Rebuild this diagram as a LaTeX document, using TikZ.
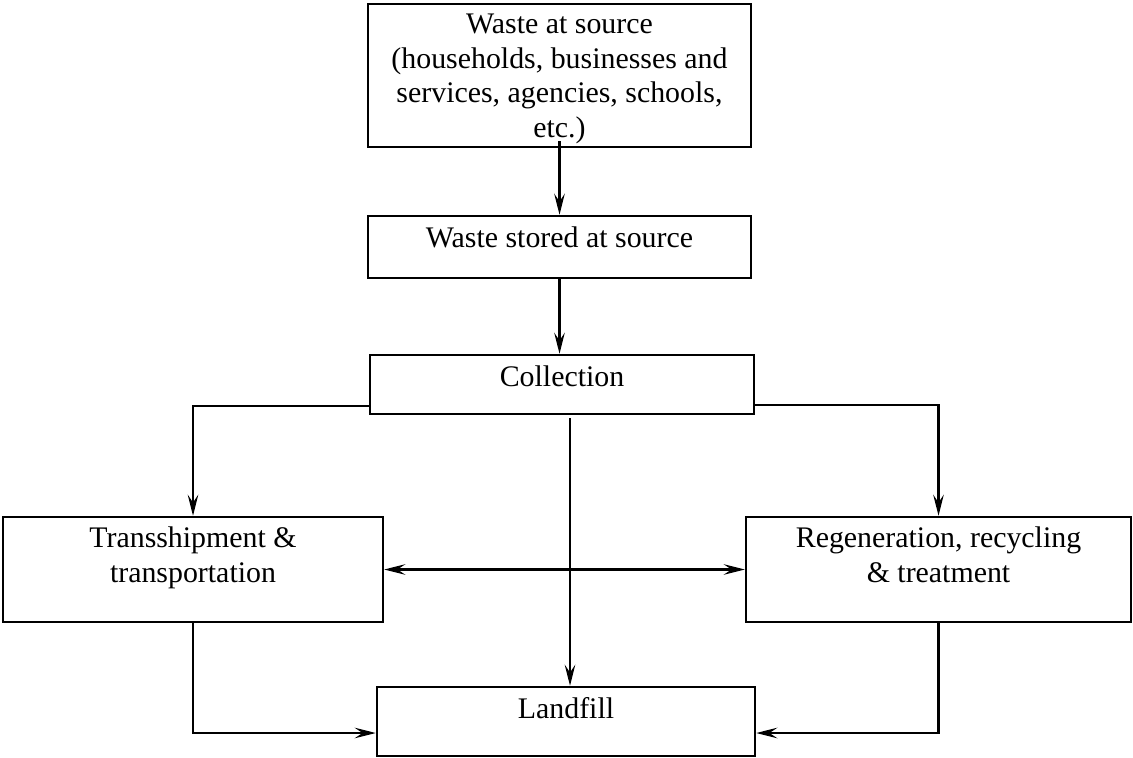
\documentclass[tikz,border=0pt]{standalone}
\usepackage{fontspec}
\setmainfont{Liberation Serif}
\usetikzlibrary{arrows.meta,positioning}

\begin{document}
\begin{tikzpicture}
    [
      >={Stealth[length=12pt,width=6pt,inset=4.5pt]},
      box/.style = {draw, line width=1.4pt, inner sep=0pt},
      txt/.style = {align=center, inner sep=0pt, font=\fontsize{17}{19.6}\selectfont},
      flow/.style = {line width=1.3pt},
    ]

    \useasboundingbox (0,0) rectangle (22.66,-15.16);

    \node[box, minimum width=7.66cm, minimum height=2.86cm] (src) at (11.19,-1.51) {};
    \node[box, minimum width=7.66cm, minimum height=1.24cm] (stored) at (11.19,-4.94) {};
    \node[box, minimum width=7.68cm, minimum height=1.18cm] (coll) at (11.24,-7.69) {};
    \node[box, minimum width=7.60cm, minimum height=2.10cm] (trans) at (3.86,-11.39) {};
    \node[box, minimum width=7.70cm, minimum height=2.10cm] (regen) at (18.77,-11.39) {};
    \node[box, minimum width=7.56cm, minimum height=1.38cm] (land) at (11.32,-14.43) {};

    \node[txt, below=0.22cm of src.north] (srctext)
      {Waste at source\\(households, businesses and\\services, agencies, schools,\\etc.)};
    \node[txt, below=0.23cm of stored.north] (storedtext) {Waste stored at source};
    \node[txt, below=0.23cm of coll.north] (colltext) {Collection};
    \node[txt, below=0.22cm of trans.north] (transtext) {Transshipment \&\\transportation};
    \node[txt, below=0.22cm of regen.north] (regentext) {Regeneration, recycling\\\& treatment};
    \node[txt, below=0.22cm of land.north] (landtext) {Landfill};

    \coordinate (drop) at (11.4,-8.36);

    \draw[flow,->] ([yshift=0.14cm]src.south) -- (stored.north);
    \draw[flow,->] (stored.south) -- (stored.south |- coll.north);
    \draw[flow,->] ([yshift=-0.43cm]coll.west) -| (trans.north);
    \draw[flow,->] ([yshift=-0.41cm]coll.east) -| (regen.north);
    \draw[flow,->] (drop) -- (drop |- land.north);
    \draw[flow,<->] (trans.east) -- (regen.west);
    \draw[flow,->] (trans.south) |- ([yshift=-0.23cm]land.west);
    \draw[flow,->] (regen.south) |- ([yshift=-0.23cm]land.east);
\end{tikzpicture}
\end{document}
